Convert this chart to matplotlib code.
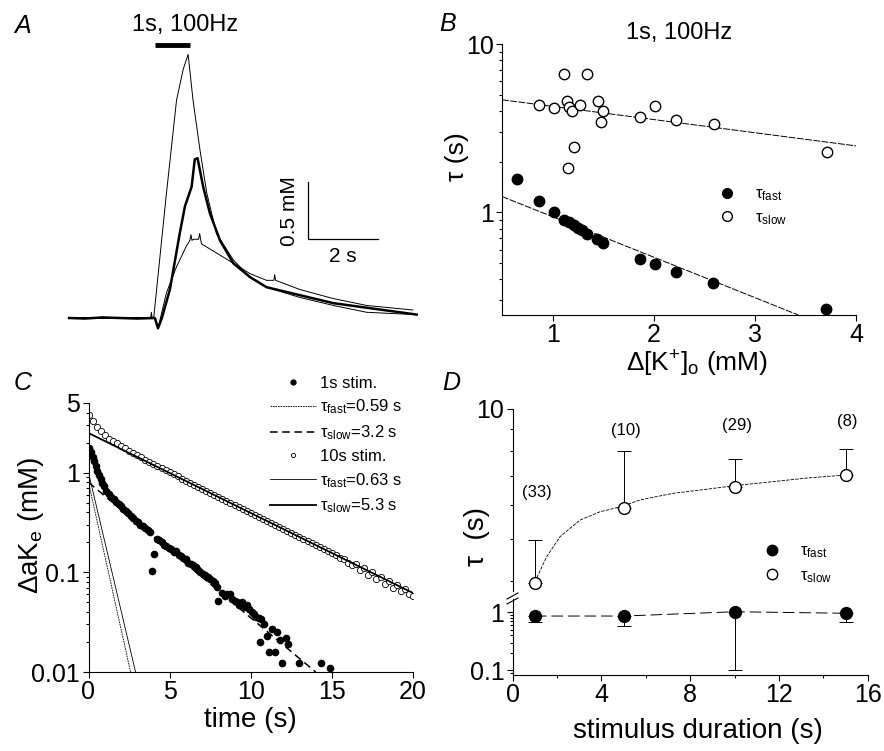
import matplotlib
matplotlib.use("Agg")
import matplotlib.pyplot as plt
from matplotlib.lines import Line2D
from matplotlib.ticker import LogLocator, NullFormatter, FixedLocator

plt.rcParams['font.family'] = ['Liberation Sans', 'DejaVu Sans']
plt.rcParams['mathtext.fontset'] = 'custom'
plt.rcParams['mathtext.rm'] = 'Liberation Sans'
plt.rcParams['mathtext.it'] = 'Liberation Sans:italic'
plt.rcParams['axes.linewidth'] = 0.8

# ---- panel A: example traces (time s, dK mM) ----
big_t = [-2.45, -2.0, -1.5, -1.0, -0.5, -0.12, -0.1, -0.08, -0.03, 0.33, 0.62, 0.81, 0.95,
         1.09, 1.29, 1.48, 1.76, 2.24, 2.71, 3.19, 4.14, 5.1, 6.05, 7.43]
big_v = [0.0, 0.005, -0.005, 0.0, 0.005, 0.0, 0.05, 0.0, 0.01, 1.09, 1.91, 2.18, 2.31,
         1.91, 1.47, 1.1, 0.74, 0.51, 0.36, 0.27, 0.18, 0.11, 0.05, 0.03]
thick_t = [-2.45, -2.0, -1.5, -1.0, -0.5, 0.0, 0.09, 0.2, 0.43, 0.71, 0.86, 1.05, 1.14, 1.22,
           1.38, 1.57, 1.86, 2.24, 2.71, 3.19, 4.14, 5.1, 6.05, 7.48]
thick_v = [0.0, -0.005, 0.005, 0.0, -0.005, 0.0, -0.09, 0.0, 0.25, 0.74, 0.98, 1.15, 1.39, 1.40,
           1.15, 0.92, 0.68, 0.48, 0.36, 0.27, 0.2, 0.13, 0.09, 0.03]
small_t = [-2.45, -2.0, -1.5, -1.0, -0.5, 0.0, 0.09, 0.33, 0.62, 0.9, 1.0, 1.03, 1.06, 1.1,
           1.25, 1.28, 1.33, 1.76, 2.24, 2.71, 3.19, 3.4, 3.42, 3.45, 4.14, 5.1, 6.05, 7.37]
small_v = [0.0, 0.005, 0.0, -0.005, 0.0, 0.0, -0.09, 0.22, 0.45, 0.63, 0.68, 0.73, 0.68, 0.69,
           0.69, 0.74, 0.65, 0.57, 0.48, 0.39, 0.33, 0.33, 0.38, 0.33, 0.25, 0.17, 0.11, 0.07]

# ---- panel B: tau vs d[K+]o ----
b_fast_x = [0.65, 0.87, 1.01, 1.11, 1.16, 1.21, 1.25, 1.29, 1.34, 1.44, 1.5, 1.86, 2.01, 2.22, 2.59, 3.7]
b_fast_y = [1.58, 1.16, 1.0, 0.90, 0.87, 0.84, 0.81, 0.78, 0.74, 0.69, 0.66, 0.53, 0.49, 0.44, 0.38, 0.265]
b_slow_x = [0.87, 1.01, 1.11, 1.14, 1.16, 1.19, 1.27, 1.34, 1.45, 1.5, 1.48, 1.21, 1.15, 1.86, 2.01, 2.22, 2.6, 3.71]
b_slow_y = [4.35, 4.16, 6.66, 4.6, 4.2, 3.98, 4.35, 6.66, 4.6, 3.98, 3.46, 2.45, 1.82, 3.66, 4.26, 3.51, 3.34, 2.27]
b_fast_fit_x = [0.5, 3.43]
b_fast_fit_y = [1.24, 0.245]
b_slow_fit_x = [0.5, 4.0]
b_slow_fit_y = [4.66, 2.48]

# ---- panel C: decay of dK after 1 s and 10 s stimulation ----
c1_t = [0.05, 0.15, 0.25, 0.35, 0.45, 0.55, 0.65, 0.75, 0.85, 0.95, 1.1, 1.25, 1.4, 1.55, 1.7,
        1.85, 2.0, 2.15, 2.3, 2.45, 2.6, 2.75, 2.9, 3.05, 3.2, 3.35, 3.5, 3.65, 3.8, 3.9, 4.05,
        4.2, 4.35, 4.5, 4.65, 4.8, 4.95, 5.1, 5.25, 5.4, 5.55, 5.7, 5.85, 6.0, 6.15, 6.3, 6.45,
        6.6, 6.75, 6.9, 7.05, 7.2, 7.35, 7.5, 7.65, 7.8, 7.95, 8.0, 8.25, 8.4, 8.55, 8.7, 8.85,
        9.0, 9.15, 9.3, 9.45, 9.6, 9.75, 9.9, 10.05, 10.2, 10.35, 10.5, 10.55, 10.65, 10.8, 11.0,
        11.1, 11.3, 11.5, 11.6, 11.8, 11.9, 12.2, 12.3, 13.0, 14.3, 14.9]
c1_v = [1.75, 1.6, 1.45, 1.3, 1.18, 1.05, 0.95, 0.86, 0.79, 0.73, 0.66, 0.61, 0.57, 0.54, 0.51,
        0.48, 0.46, 0.43, 0.41, 0.39, 0.37, 0.35, 0.33, 0.32, 0.30, 0.29, 0.28, 0.265, 0.255, 0.104, 0.152,
        0.215, 0.21, 0.2, 0.19, 0.185, 0.175, 0.17, 0.16, 0.165, 0.15, 0.145, 0.14, 0.135, 0.125, 0.12, 0.118,
        0.112, 0.105, 0.1, 0.097, 0.094, 0.09, 0.085, 0.082, 0.078, 0.072, 0.051, 0.062, 0.058, 0.06, 0.061, 0.054,
        0.052, 0.05, 0.047, 0.05, 0.045, 0.047, 0.043, 0.04, 0.038, 0.036, 0.035, 0.02, 0.034, 0.03, 0.023,
        0.016, 0.027, 0.016, 0.025, 0.021, 0.0123, 0.022, 0.019, 0.0123, 0.0123, 0.011]
c10_t = [0.0, 0.25, 0.5, 0.75, 1.0, 1.25, 1.5, 1.75, 2.0, 2.25, 2.5, 2.75, 3.0, 3.25, 3.5, 3.75,
         4.0, 4.25, 4.5, 4.75, 5.0, 5.25, 5.5, 5.75, 6.0, 6.25, 6.5, 6.75, 7.0, 7.25, 7.5, 7.75,
         8.0, 8.25, 8.5, 8.75, 9.0, 9.25, 9.5, 9.75, 10.0, 10.25, 10.5, 10.75, 11.0, 11.25, 11.5,
         11.75, 12.0, 12.25, 12.5, 12.75, 13.0, 13.25, 13.5, 13.75, 14.0, 14.25, 14.5, 14.75, 15.0,
         15.25, 15.5, 15.75, 16.0, 16.25, 16.5, 16.75, 17.0, 17.25, 17.5, 17.75, 18.0, 18.25, 18.5,
         18.75, 19.0, 19.25, 19.5, 19.75, 20.0]
c10_v = [3.8, 3.3, 2.9, 2.6, 2.4, 2.2, 2.08, 1.97, 1.87, 1.77, 1.66, 1.57, 1.49, 1.42, 1.35, 1.29,
         1.23, 1.17, 1.11, 1.06, 1.01, 0.96, 0.92, 0.87, 0.83, 0.79, 0.76, 0.72, 0.69, 0.66, 0.63, 0.6,
         0.57, 0.545, 0.52, 0.5, 0.475, 0.455, 0.435, 0.415, 0.395, 0.375, 0.36, 0.345, 0.33, 0.315, 0.3,
         0.285, 0.27, 0.26, 0.25, 0.235, 0.225, 0.215, 0.205, 0.195, 0.19, 0.18, 0.17, 0.163, 0.155,
         0.15, 0.14, 0.135, 0.125, 0.118, 0.12, 0.105, 0.11, 0.095, 0.1, 0.085, 0.09, 0.077, 0.082,
         0.07, 0.075, 0.065, 0.068, 0.06, 0.058]
# single exponential fit components (end points of straight lines on log axis)
fit1_fast_t, fit1_fast_v = [0.0, 2.59], [0.8, 0.01]
fit1_slow_t, fit1_slow_v = [0.0, 14.0], [0.8, 0.01]
fit10_fast_t, fit10_fast_v = [0.0, 2.9], [1.0, 0.01]
fit10_slow_t, fit10_slow_v = [0.0, 20.0], [2.5, 0.062]

# ---- panel D: tau vs stimulus duration ----
d_dur = [1, 5, 10, 15]
d_n = ['(33)', '(10)', '(29)', '(8)']
d_slow = [3.96, 5.89, 6.61, 7.03]
d_slow_err = [1.02, 2.11, 1.04, 1.04]
d_fast = [0.86, 0.86, 1.02, 0.96]
d_fast_err = [0.17, 0.28, 0.92, 0.29]
d_curve_t = [1.0, 1.53, 2.13, 3.03, 3.93, 4.93, 5.74, 7.24, 8.74, 9.94, 11.74, 13.25, 14.97]
d_curve_v = [3.98, 4.55, 5.06, 5.53, 5.78, 5.95, 6.16, 6.38, 6.52, 6.64, 6.79, 6.92, 7.03]

W, H = 884, 751
fig = plt.figure(figsize=(W / 100, H / 100), dpi=100)


def rect(l, t, r, b):
    return [l / W, 1 - b / H, (r - l) / W, (b - t) / H]


def px(x, y):
    return x / W, 1 - y / H


def style(ax, bottom=True):
    ax.spines['top'].set_visible(False)
    ax.spines['right'].set_visible(False)
    if not bottom:
        ax.spines['bottom'].set_visible(False)
    ax.tick_params(which='both', direction='out', labelsize=18, width=0.8, pad=2)
    ax.tick_params(which='major', length=4)
    ax.tick_params(which='minor', length=2.5)


TF = 18    # tick font
LF = 19    # label font

# panel letters
for lab, (x, y) in zip('ABCD', [(23, 26), (448, 24), (23, 383), (451, 383)]):
    fig.text(*px(x, y), lab, fontsize=18, style='italic', ha='center', va='center')

# ---------------- A ----------------
axA = fig.add_axes(rect(60, 35, 430, 335))
axA.axis('off')
axA.set_xlim(-2.71, 7.86)
axA.set_ylim(-0.149, 2.48)
axA.plot(big_t, big_v, color='k', lw=0.7)
axA.plot(small_t, small_v, color='k', lw=0.7)
axA.plot(thick_t, thick_v, color='k', lw=1.8)
axA.plot([0, 1], [2.39, 2.39], color='k', lw=3.5, solid_capstyle='butt')
axA.text(0.86, 2.57, '1s, 100Hz', ha='center', va='center', fontsize=17, clip_on=False)
axA.plot([4.37, 4.37, 6.37], [1.19, 0.69, 0.69], color='k', lw=0.9)
axA.text(3.86, 0.94, '0.5 mM', rotation=90, ha='center', va='center', fontsize=15)
axA.text(5.37, 0.54, '2 s', ha='center', va='center', fontsize=15)

# ---------------- B ----------------
axB = fig.add_axes(rect(502, 44, 856, 315))
axB.set_yscale('log')
axB.set_xlim(0.5, 4)
axB.set_ylim(0.245, 10)
fitstyle = dict(color='k', lw=0.7, ls=(0, (7, 1.5)))
axB.plot(b_slow_fit_x, b_slow_fit_y, **fitstyle)
axB.plot(b_fast_fit_x, b_fast_fit_y, **fitstyle)
axB.plot(b_fast_x, b_fast_y, 'o', color='k', ms=7.5, zorder=3)
axB.plot(b_slow_x, b_slow_y, 'o', mfc='white', mec='k', mew=1.0, ms=7.5, zorder=3)
style(axB)
axB.set_xticks([1, 2, 3, 4])
axB.yaxis.set_major_locator(FixedLocator([1, 10]))
axB.set_yticklabels(['1', '10'])
axB.yaxis.set_minor_locator(LogLocator(base=10, subs=range(2, 10)))
axB.yaxis.set_minor_formatter(NullFormatter())
axB.tick_params(labelsize=TF)
axB.set_title('1s, 100Hz', fontsize=17, pad=0)
fig.text(*px(457, 157), 'τ (s)', rotation=90, fontsize=LF, ha='center', va='center')
fig.text(*px(697, 364), 'Δ[K$^{+}$]$_{\\rm o}$ (mM)', fontsize=LF, ha='center', va='center')
hB = [Line2D([], [], ls='none', marker='o', color='k', ms=7),
      Line2D([], [], ls='none', marker='o', mfc='white', mec='k', mew=1.0, ms=7)]
axB.legend(hB, ['τ$_{\\rm fast}$', 'τ$_{\\rm slow}$'], loc='upper left', frameon=False,
           bbox_to_anchor=px(712, 180), bbox_transform=fig.transFigure, fontsize=12,
           handlelength=1.0, handletextpad=1.2, labelspacing=0.4, borderaxespad=0)

# ---------------- C ----------------
axC = fig.add_axes(rect(88.5, 403, 413, 672))
axC.set_yscale('log')
axC.set_xlim(0, 20)
axC.set_ylim(0.01, 5)
axC.plot(fit1_fast_t, fit1_fast_v, color='k', lw=0.6, ls=(0, (2, 1)))
axC.plot(fit10_fast_t, fit10_fast_v, color='k', lw=0.6)
axC.plot(fit1_slow_t, fit1_slow_v, color='k', lw=1.1, ls=(0, (5, 3)))
axC.plot(c10_t, c10_v, 'o', mfc='white', mec='k', mew=0.6, ms=4.5)
axC.plot(fit10_slow_t, fit10_slow_v, color='k', lw=1.3)
axC.plot(c1_t, c1_v, 'o', color='k', ms=4.5)
style(axC)
axC.set_xticks([0, 5, 10, 15, 20])
axC.yaxis.set_major_locator(FixedLocator([0.01, 0.1, 1, 5]))
axC.set_yticklabels(['0.01', '0.1', '1', '5'])
axC.yaxis.set_minor_locator(LogLocator(base=10, subs=range(2, 10)))
axC.yaxis.set_minor_formatter(NullFormatter())
axC.tick_params(labelsize=TF)
fig.text(*px(31, 525), 'ΔaK$_{\\rm e}$ (mM)', rotation=90, fontsize=LF + 1, ha='center', va='center')
fig.text(*px(250, 720), 'time (s)', fontsize=LF + 1, ha='center', va='center')
hC = [Line2D([], [], ls='none', marker='o', color='k', ms=3.5),
      Line2D([], [], color='k', lw=0.6, ls=(0, (2, 1))),
      Line2D([], [], color='k', lw=1.1, ls=(0, (5, 3))),
      Line2D([], [], ls='none', marker='o', mfc='white', mec='k', mew=0.6, ms=3),
      Line2D([], [], color='k', lw=0.6),
      Line2D([], [], color='k', lw=1.3)]
lC = ['1s stim.', 'τ$_{\\rm fast}$=0.59 s', 'τ$_{\\rm slow}$=3.2 s',
      '10s stim.', 'τ$_{\\rm fast}$=0.63 s', 'τ$_{\\rm slow}$=5.3 s']
axC.legend(hC, lC, loc='upper left', frameon=False, bbox_to_anchor=px(263, 369),
           bbox_transform=fig.transFigure, fontsize=12, handlelength=2.8,
           handletextpad=0.25, labelspacing=0.42, borderaxespad=0)

# ---------------- D (broken log axis) ----------------
axDu = fig.add_axes(rect(512.7, 409, 867.7, 591))
axDl = fig.add_axes(rect(512.7, 599, 867.7, 675))
for ax in (axDu, axDl):
    ax.set_yscale('log')
    ax.set_xlim(0, 16)
axDu.set_ylim(3.79, 10)
axDl.set_ylim(0.083, 1.69)

axDu.plot(d_curve_t, d_curve_v, color='k', lw=0.6, ls=(0, (4, 1.5)))
axDu.errorbar(d_dur, d_slow, yerr=[[0] * 4, d_slow_err], fmt='none', ecolor='k',
              elinewidth=0.7, capsize=5, capthick=0.7)
axDu.plot(d_dur, d_slow, 'o', mfc='white', mec='k', mew=1.0, ms=8.5, zorder=3)
for t, lab, yy in zip(d_dur, d_n, [6.4, 8.94, 9.18, 9.35]):
    axDu.text(t + 0.1, yy, lab, ha='center', va='center', fontsize=12)

axDl.plot(d_dur, d_fast, color='k', lw=0.7, ls=(0, (12, 5)))
axDl.errorbar(d_dur, d_fast, yerr=[d_fast_err, [0] * 4], fmt='none', ecolor='k',
              elinewidth=0.7, capsize=5, capthick=0.7)
axDl.plot(d_dur, d_fast, 'o', color='k', ms=8.5, zorder=3)

style(axDu, bottom=False)
style(axDl)
axDu.set_xticks([])
axDu.yaxis.set_major_locator(FixedLocator([10]))
axDu.set_yticklabels(['10'])
axDu.yaxis.set_minor_locator(LogLocator(base=10, subs=range(2, 10)))
axDu.yaxis.set_minor_formatter(NullFormatter())
axDl.set_xticks([0, 4, 8, 12, 16])
axDl.set_xticks([2, 6, 10, 14], minor=True)
axDl.yaxis.set_major_locator(FixedLocator([0.1, 1]))
axDl.set_yticklabels(['0.1', '1'])
axDl.yaxis.set_minor_locator(LogLocator(base=10, subs=range(2, 10)))
axDl.yaxis.set_minor_formatter(NullFormatter())
axDu.tick_params(labelsize=TF)
axDl.tick_params(labelsize=TF)

# break marks on the left spine
for yb in (596, 601):
    fig.add_artist(Line2D([507 / W, 518 / W], [1 - (yb + 3) / H, 1 - (yb - 3) / H],
                          color='k', lw=0.8))

fig.text(*px(477, 537), 'τ  (s)', rotation=90, fontsize=LF + 1, ha='center', va='center')
fig.text(*px(698, 731), 'stimulus duration (s)', fontsize=LF + 1, ha='center', va='center')
hD = [Line2D([], [], ls='none', marker='o', color='k', ms=7.5),
      Line2D([], [], ls='none', marker='o', mfc='white', mec='k', mew=1.0, ms=7.5)]
axDu.legend(hD, ['τ$_{\\rm fast}$', 'τ$_{\\rm slow}$'], loc='upper left', frameon=False,
            bbox_to_anchor=px(757, 537), bbox_transform=fig.transFigure, fontsize=12,
            handlelength=1.0, handletextpad=1.2, labelspacing=0.45, borderaxespad=0)

fig.savefig('out.png', dpi=100)
